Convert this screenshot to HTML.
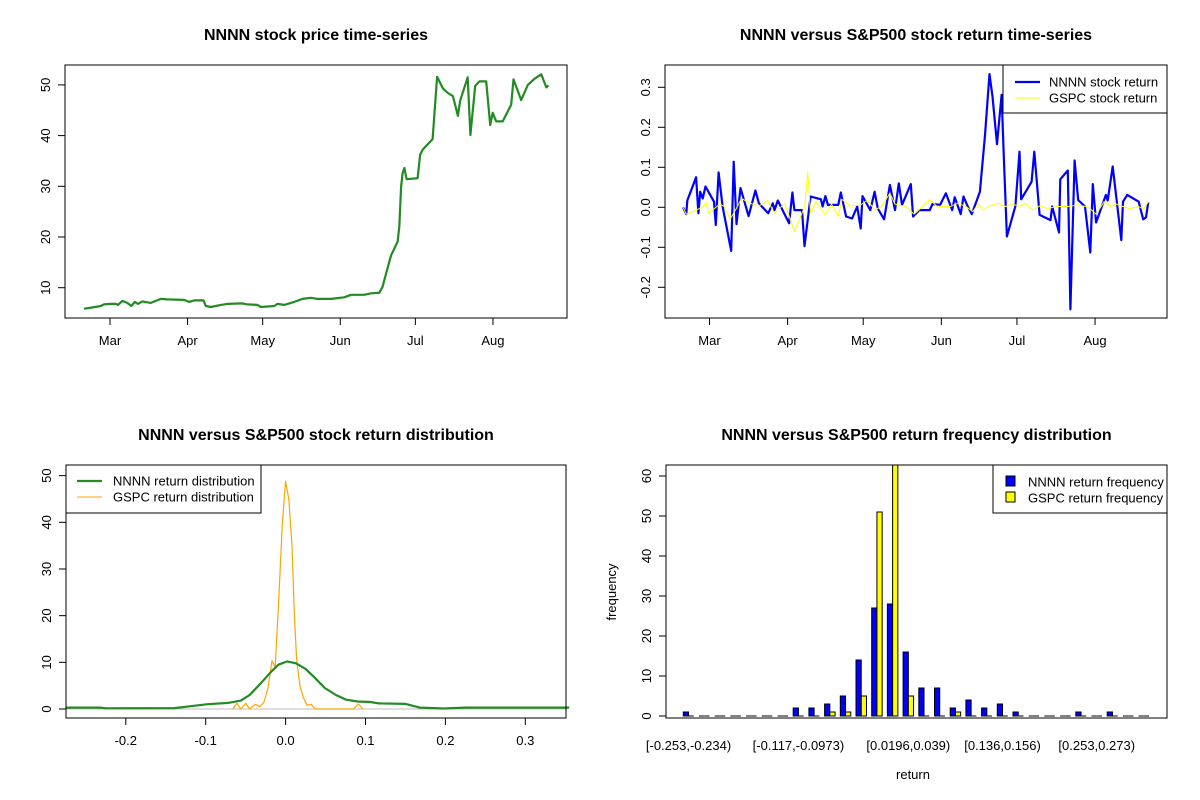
<!DOCTYPE html>
<html><head><meta charset="utf-8"><style>
body{margin:0;background:#fff}
svg{display:block;font-family:"Liberation Sans",Arial,sans-serif}
</style></head><body>
<svg id="c" width="1200" height="800" viewBox="0 0 1200 800"></svg>
<script>
// ---- Top-left: price series (day offset from Mar 1, price)
const priceDays=[-10.4,-8.4,-3.7,-2.4,0.3,2.3,3.2,4.9,6.9,8.5,9.9,11.2,12.9,16.3,20.3,22.9,29.6,31.6,33.6,37.3,38.3,40.3,44.3,46.9,52.9,54.9,58.9,60.3,65.6,66.9,69.6,73.6,76.9,80.3,82.9,88.3,93.6,96.3,101.6,104.3,107.6,108.9,110.3,112.3,114.9,115.6,116.3,116.9,117.6,118.5,122.9,123.9,124.9,128.9,130.7,133.0,135.0,137.0,139.0,139.9,142.9,144.0,145.9,147.6,150.3,151.9,152.9,154.3,156.9,160.3,161.2,164.3,166.9,169.6,172.3,174.3,175.2];
const priceVals=[5.85,6.0,6.4,6.7,6.8,6.8,6.6,7.4,7.0,6.4,7.2,6.8,7.3,7.0,7.8,7.7,7.6,7.2,7.5,7.5,6.4,6.2,6.6,6.8,6.9,6.7,6.6,6.2,6.4,6.8,6.6,7.2,7.8,8.0,7.8,7.8,8.1,8.6,8.6,8.9,9.0,10.2,12.8,16.4,19.1,22.0,29.9,32.6,33.6,31.4,31.6,36.2,37.2,39.3,51.6,49.3,48.4,47.8,43.9,46.9,51.5,40.1,49.8,50.7,50.7,42.1,44.5,42.8,42.8,46.1,51.1,47.0,50.0,51.2,52.1,49.5,49.9];
const monthLabels=["Mar","Apr","May","Jun","Jul","Aug"];
const monthDays=[0,31,61,92,122,153];
const priceTicks=[10,20,30,40,50];
// ---- Top-right: returns
const nDays=[-10.5,-9.2,-8.8,-5.3,-4.4,-3.7,-2.7,-1.6,1.8,2.5,3.6,5.2,8.6,9.6,10.7,12.3,15.5,18.2,19.6,23.3,25.1,25.8,27.1,31.6,32.9,33.7,36.7,37.7,40.1,44.2,44.9,46.0,47.0,51.1,52.1,54.2,56.6,58.6,60.0,60.7,63.8,65.5,66.8,69.3,71.6,73.6,75.1,76.4,79.9,80.8,83.3,87.4,88.5,91.5,93.8,96.3,97.3,99.7,100.8,102.5,104.1,107.3,109.3,111.1,112.3,114.1,115.9,116.8,118.0,121.4,123.0,123.7,127.8,128.9,131.0,135.3,136.0,138.7,139.2,142.2,143.2,144.9,146.3,149.0,151.1,152.1,153.4,157.3,158.0,160.0,162.1,163.4,164.1,165.8,170.3,172.1,173.2,174.1];
const nRet=[0,-0.017,0.017,0.075,-0.015,0.039,0.022,0.052,0.014,-0.044,0.087,0.002,-0.109,0.114,-0.042,0.048,-0.022,0.042,0.01,-0.015,0.01,-0.007,0.017,-0.04,0.037,-0.007,-0.007,-0.097,0.027,0.02,0.002,0.028,0.006,0.006,0.037,-0.023,-0.028,0.002,-0.053,0.028,-0.007,0.039,-0.003,-0.03,0.056,-0.007,0.06,0.006,0.058,-0.023,-0.007,-0.007,0.008,0.006,0.035,-0.007,0.025,-0.017,0.027,0.002,-0.017,0.039,0.177,0.333,0.277,0.158,0.281,0.127,-0.073,0.003,0.139,0.02,0.064,0.139,-0.019,-0.032,0.002,-0.063,0.07,0.092,-0.255,0.117,0.018,0.002,-0.113,0.058,-0.038,0.031,0.017,0.102,-0.011,-0.082,0.014,0.031,0.014,-0.03,-0.025,0.012];
const gDays=[-10.5,-9.2,-5.1,-2.3,-1.4,-0.3,4.1,5.9,8.2,10.7,12.7,16.2,19.6,23.0,25.8,29.9,33.7,37.8,39.0,40.1,42.2,46.0,48.4,51.1,52.5,55.9,60.0,62.7,65.5,68.2,71.6,73.6,77.8,81.2,84.7,87.4,90.1,95.6,98.4,101.8,104.5,106.6,108.6,110.7,114.8,117.5,120.3,123.0,125.1,128.5,131.2,134.0,138.1,142.2,146.3,150.4,153.4,156.6,159.3,161.4,164.1,166.8,170.3,172.3,174.1];
const gRet=[0,-0.017,-0.007,0.003,0.012,-0.015,0.008,0.002,-0.03,-0.002,0.022,0.01,0.003,0.017,-0.015,0.01,-0.061,0.002,0.089,-0.017,0.014,-0.019,0.008,-0.022,0.02,0.003,0.006,0.018,-0.007,0.002,0.035,0.008,0.002,-0.017,0.002,0.02,0.003,0.002,0.01,0.002,-0.011,0.008,-0.007,0.003,0.01,0.002,0.008,0.002,0.01,-0.007,0.004,-0.003,0.002,0.002,0.006,0,-0.017,0.014,0.002,0.008,0.002,-0.003,0.002,-0.005,0.014];
const retTicks=[-0.2,-0.1,0.0,0.1,0.2,0.3];
// ---- Bottom-left: densities
const dnX=[-0.275,-0.232,-0.225,-0.139,-0.124,-0.099,-0.072,-0.056,-0.045,-0.031,-0.018,-0.009,0.002,0.013,0.025,0.036,0.049,0.063,0.076,0.09,0.106,0.117,0.15,0.168,0.198,0.225,0.355];
const dnY=[0.3,0.3,0.15,0.2,0.5,1.0,1.3,1.8,3.0,5.5,8.0,9.5,10.2,9.8,8.6,6.8,4.5,3.0,2.0,1.6,1.5,1.2,1.1,0.3,0.1,0.3,0.3];
const dgX=[-0.066,-0.061,-0.056,-0.05,-0.045,-0.038,-0.032,-0.027,-0.022,-0.017,-0.013,-0.009,-0.004,0.0,0.004,0.008,0.011,0.014,0.018,0.022,0.027,0.032,0.037,0.085,0.091,0.097];
const dgY=[0,1.2,0,1.2,0,1.0,0.5,1.5,4.5,10.3,9.0,22,40,48.8,45,35,20,10,5,2.5,0.8,1.0,0,0,1.1,0];
const densXTicks=[-0.2,-0.1,0.0,0.1,0.2,0.3];
const densYTicks=[0,10,20,30,40,50];
// ---- Bottom-right: histogram
const binLabels=["[-0.253,-0.234)","[-0.117,-0.0973)","[0.0196,0.039)","[0.136,0.156)","[0.253,0.273)"];
const binLabelIdx=[0,7,14,20,26];
const nFreq=[1,0,0,0,0,0,0,2,2,3,5,14,27,28,16,7,7,2,4,2,3,1,0,0,0,1,0,1,0,0];
const gFreq=[0,0,0,0,0,0,0,0,0,1,1,5,51,67,5,0,0,1,0,0,0,0,0,0,0,0,0,0,0,0];
const freqTicks=[0,10,20,30,40,50,60];

const svg=document.getElementById('c');
const NS='http://www.w3.org/2000/svg';
const FS='13';
function mk(tag,attrs,parent,name,txt){const e=document.createElementNS(NS,tag);for(const k in attrs)e.setAttribute(k,attrs[k]);


if(txt!==undefined)e.textContent=txt;(parent||svg).appendChild(e);return e;}
function poly(pts,color,w,name,g){mk('polyline',{points:pts.map(p=>p[0].toFixed(1)+','+p[1].toFixed(1)).join(' '),fill:'none',stroke:color,'stroke-width':w,'stroke-linejoin':'round'},g,name);}
function panel(name,box,title){const g=mk('g',{},svg,name);
mk('text',{x:(box[0]+box[2])/2,y:box[1]-25,'text-anchor':'middle','font-size':'16','font-weight':'bold'},g,'chart-title',title);
return g;}
function frame(g,box){mk('rect',{x:box[0],y:box[1],width:box[2]-box[0],height:box[3]-box[1],fill:'none',stroke:'#000','stroke-width':1},g,'plot-frame');}
function xt(g,box,x,lab){mk('line',{x1:x,x2:x,y1:box[3],y2:box[3]+7,stroke:'#000'},g,'x-tick');
mk('text',{x:x,y:box[3]+27,'text-anchor':'middle','font-size':FS},g,'x-tick-label',lab);}
function yt(g,box,y,lab){mk('line',{x1:box[0],x2:box[0]-7,y1:y,y2:y,stroke:'#000'},g,'y-tick');
const lx=box[0]-15;mk('text',{x:lx,y:y,'text-anchor':'middle','font-size':FS,transform:`rotate(-90 ${lx} ${y})`},g,'y-tick-label',lab);}

// Panel 1
{const b=[65,65,567,318];const g=panel('price-chart',b,'NNNN stock price time-series');
const X=d=>110+d*2.503,Y=v=>287.7-(v-10)*5.07;
poly(priceDays.map((d,i)=>[X(d),Y(priceVals[i])]),'#228B22',2.2,'price-line',g);
frame(g,b);monthDays.forEach((d,i)=>xt(g,b,X(d),monthLabels[i]));priceTicks.forEach(v=>yt(g,b,Y(v),String(v)));}

// Panel 2
{const b=[665,65,1167,318];const g=panel('return-chart',b,'NNNN versus S&P500 stock return time-series');
const X=d=>709.5+d*2.52,Y=v=>207.3-v*400;
poly(nDays.map((d,i)=>[X(d),Y(nRet[i])]),'#0000FF',2.2,'nnnn-return-line',g);
poly(gDays.map((d,i)=>[X(d),Y(gRet[i])]),'#FFFF00',1,'gspc-return-line',g);
frame(g,b);monthDays.forEach((d,i)=>xt(g,b,X(d),monthLabels[i]));retTicks.forEach(v=>yt(g,b,Y(v),v.toFixed(1)));
const L=mk('g',{},g,'legend');mk('rect',{x:1003,y:65,width:164,height:48,fill:'#fff',stroke:'#000'},L,'legend-box');
mk('line',{x1:1015,x2:1040,y1:82,y2:82,stroke:'#0000FF','stroke-width':2.2},L,'legend-nnnn-swatch');
mk('text',{x:1049,y:86.5,'font-size':FS},L,'legend-nnnn-label','NNNN stock return');
mk('line',{x1:1015,x2:1040,y1:98,y2:98,stroke:'#FFFF00','stroke-width':1},L,'legend-gspc-swatch');
mk('text',{x:1049,y:102.5,'font-size':FS},L,'legend-gspc-label','GSPC stock return');}

// Panel 3
{const b=[66,465,566,718];const g=panel('density-chart',b,'NNNN versus S&P500 stock return distribution');
const X=v=>285.6+v*799,Y=v=>709-v*4.667;
mk('line',{x1:b[0],x2:b[2],y1:Y(0),y2:Y(0),stroke:'#bebebe','stroke-width':1},g,'zero-line');
poly(dgX.map((x,i)=>[X(x),Y(dgY[i])]),'#FFA500',1.2,'gspc-density-line',g);
poly(dnX.map((x,i)=>[X(x),Y(dnY[i])]),'#228B22',2.2,'nnnn-density-line',g);
frame(g,b);densXTicks.forEach(v=>xt(g,b,X(v),v.toFixed(1)));densYTicks.forEach(v=>yt(g,b,Y(v),String(v)));
const L=mk('g',{},g,'legend');mk('rect',{x:66,y:465,width:195,height:48,fill:'#fff',stroke:'#000'},L,'legend-box');
mk('line',{x1:77,x2:102,y1:481,y2:481,stroke:'#228B22','stroke-width':2.2},L,'legend-nnnn-swatch');
mk('text',{x:113,y:485.5,'font-size':FS},L,'legend-nnnn-label','NNNN return distribution');
mk('line',{x1:77,x2:102,y1:497,y2:497,stroke:'#FFA500','stroke-width':1},L,'legend-gspc-swatch');
mk('text',{x:113,y:501.5,'font-size':FS},L,'legend-gspc-label','GSPC return distribution');}

// Panel 4
{const b=[666,465,1167,718];const g=panel('histogram-chart',b,'NNNN versus S&P500 return frequency distribution');
const X=i=>683.3+i*15.7,bw=5.23,Y=v=>716-v*4;
const cp=mk('clipPath',{id:'hc'},g,'clip');mk('rect',{x:b[0],y:b[1],width:b[2]-b[0],height:b[3]-b[1]},cp,'clip-rect');
const bars=mk('g',{'clip-path':'url(#hc)'},g,'bars');
function bar(x,v,col,name){if(v>0)mk('rect',{x:x,y:Y(v),width:bw,height:v*4,fill:col,stroke:'#000','stroke-width':1},bars,name);
else mk('line',{x1:x,x2:x+bw,y1:Y(0),y2:Y(0),stroke:'#000','stroke-width':1},bars,name);}
nFreq.forEach((v,i)=>bar(X(i),v,'#0000FF','bar-nnnn'));
gFreq.forEach((v,i)=>bar(X(i)+bw,v,'#FFFF00','bar-gspc'));
frame(g,b);
binLabelIdx.forEach((k,j)=>mk('text',{x:X(k)+bw,y:b[3]+32,'text-anchor':'middle','font-size':FS},g,'x-tick-label',binLabels[j]));
freqTicks.forEach(v=>{mk('line',{x1:b[0],x2:b[0]-7,y1:Y(v),y2:Y(v),stroke:'#000'},g,'y-tick');
const lx=b[0]-15,y=Y(v);mk('text',{x:lx,y:y,'text-anchor':'middle','font-size':FS,transform:`rotate(-90 ${lx} ${y})`},g,'y-tick-label',String(v));});
mk('line',{x1:b[0],x2:b[0],y1:Y(0),y2:Y(60),stroke:'#000'},g,'y-axis-line');
mk('text',{x:913,y:779,'text-anchor':'middle','font-size':FS},g,'x-axis-title','return');
mk('text',{x:616,y:592,'text-anchor':'middle','font-size':FS,transform:'rotate(-90 616 592)'},g,'y-axis-title','frequency');
const L=mk('g',{},g,'legend');mk('rect',{x:993,y:465,width:174,height:48,fill:'#fff',stroke:'#000'},L,'legend-box');
mk('rect',{x:1006,y:476,width:9,height:10,fill:'#0000FF',stroke:'#000'},L,'legend-nnnn-swatch');
mk('text',{x:1028,y:486.5,'font-size':FS},L,'legend-nnnn-label','NNNN return frequency');
mk('rect',{x:1006,y:492,width:9,height:10,fill:'#FFFF00',stroke:'#000'},L,'legend-gspc-swatch');
mk('text',{x:1028,y:502.5,'font-size':FS},L,'legend-gspc-label','GSPC return frequency');}
</script>
</body></html>
